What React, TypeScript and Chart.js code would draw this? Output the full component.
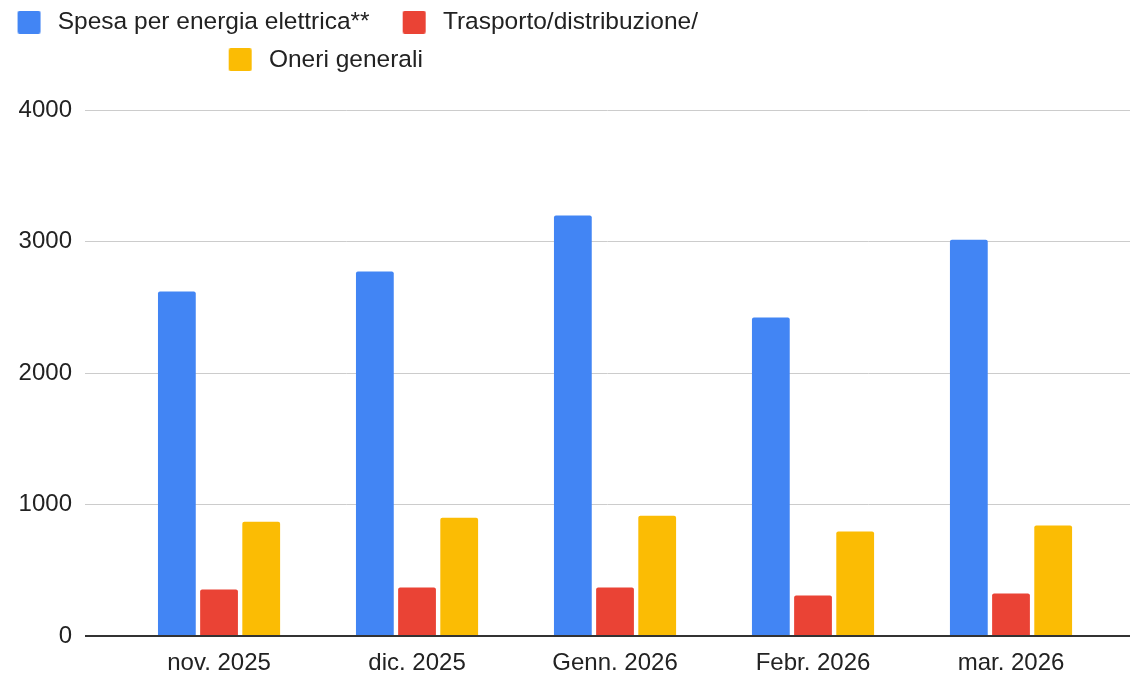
import React, { useEffect, useRef } from 'react';
import { Chart, registerables } from 'chart.js';

Chart.register(...registerables);

// ---- data ----
const categories = ['nov. 2025', 'dic. 2025', 'Genn. 2026', 'Febr. 2026', 'mar. 2026'];
const seriesNames = ['Spesa per energia elettrica**', 'Trasporto/distribuzione/', 'Oneri generali'];
const spesaEnergia = [2620, 2772, 3198, 2423, 3013];
const trasporto = [353, 368, 368, 308, 323];
const oneri = [869, 900, 915, 794, 841];
const yTicks = [0, 1000, 2000, 3000, 4000];

// ---- styles ----
const colors = ['#4285F4', '#EA4335', '#FBBC04'];
const FONT = "'Liberation Sans', Arial, Helvetica, sans-serif";
const TEXT = '#222222';
const X_MIN = -0.677;
const X_MAX = 4.601;
const LEGEND_FIT_W = 800;
const LEGEND_LEFT = -30;
const LEGEND_RIGHT = 725.5;
const LEGEND_H = 110;
const LEGEND_SHIFT = -3;
const LEGEND_ROW2_SHIFT = 64; // moves the second legend row left by half this
const SWATCH_W = 48; // legend marker slot (lead-in gap + box + gap)
const SWATCH_BOX = 23;
const SWATCH_TAIL = 5;

function makeSwatch(color: string): HTMLCanvasElement {
  const c = document.createElement('canvas');
  c.width = SWATCH_W;
  c.height = SWATCH_BOX;
  const g = c.getContext('2d')!;
  g.fillStyle = color;
  const x = SWATCH_W - SWATCH_BOX - SWATCH_TAIL;
  g.beginPath();
  if ((g as any).roundRect) (g as any).roundRect(x, 0, SWATCH_BOX, SWATCH_BOX, 2);
  else g.rect(x, 0, SWATCH_BOX, SWATCH_BOX);
  g.fill();
  return c;
}

const legendLayout = {
  id: 'legendLayout',
  beforeUpdate(chart: any) {
    const lg = chart.legend;
    if (lg && !lg._patchedFit) {
      lg._patchedFit = true;
      const fit = lg.fit;
      lg.fit = function () {
        const mw = this.maxWidth;
        this.maxWidth = Math.min(mw, LEGEND_FIT_W);
        fit.call(this);
        this.maxWidth = mw;
        this.height = LEGEND_H;
      };
    }
  },
  afterLayout(chart: any) {
    const lg = chart.legend;
    if (lg) {
      lg.left = LEGEND_LEFT;
      lg.right = LEGEND_RIGHT;
      lg.width = LEGEND_RIGHT - LEGEND_LEFT;
      lg.top = LEGEND_SHIFT;
      if (lg.lineWidths && lg.lineWidths.length > 1) {
        lg.lineWidths[1] += LEGEND_ROW2_SHIFT;
      }
    }
  },
};

export default function App() {
  const ref = useRef<HTMLCanvasElement | null>(null);

  useEffect(() => {
    document.body.style.margin = '0';
    const canvas = ref.current;
    if (!canvas) return;
    const swatches = colors.map(makeSwatch);
    const series = [spesaEnergia, trasporto, oneri];
    const chart = new Chart(canvas, {
      type: 'bar',
      data: {
        datasets: series.map((vals, k) => ({
          label: seriesNames[k],
          data: vals.map((v, i) => ({ x: i, y: v })),
          backgroundColor: colors[k],
          borderRadius: 2,
          borderSkipped: 'start',
          categoryPercentage: 0.639,
          barPercentage: 0.896,
        })),
      },
      options: {
        responsive: false,
        animation: false,
        events: [],
        layout: { padding: 0 },
        plugins: {
          tooltip: { enabled: false },
          legend: {
            position: 'top',
            align: 'center',
            labels: {
              usePointStyle: true,
              pointStyleWidth: SWATCH_W,
              boxWidth: SWATCH_BOX,
              boxHeight: SWATCH_BOX,
              padding: 13,
              color: TEXT,
              font: { size: 24.5, family: FONT },
              generateLabels: (ch: any) => {
                const items = (Chart.defaults as any).plugins.legend.labels.generateLabels(ch);
                return items.map((it: any, i: number) => ({ ...it, pointStyle: swatches[i] }));
              },
            },
          },
        },
        scales: {
          x: {
            type: 'linear',
            offset: false,
            min: X_MIN,
            max: X_MAX,
            afterBuildTicks: (s: any) => {
              s.ticks = categories.map((_, i) => ({ value: i }));
            },
            afterFit: (s: any) => {
              s.height = 37;
            },
            ticks: {
              callback: (v: any) => categories[v as number] ?? '',
              padding: 5,
              maxRotation: 0,
              autoSkip: false,
              color: TEXT,
              font: { size: 24, family: FONT },
            },
            grid: { display: false, offset: false },
            border: { display: false },
          },
          y: {
            min: 0,
            max: 4000,
            afterBuildTicks: (s: any) => {
              s.ticks = yTicks.map((v) => ({ value: v }));
            },
            afterFit: (s: any) => {
              s.width = 85;
            },
            ticks: {
              callback: (v: any) => String(v),
              padding: 13,
              color: TEXT,
              font: { size: 24, family: FONT },
            },
            grid: {
              drawTicks: false,
              color: (c: any) => (c.tick && c.tick.value === 0 ? '#333333' : '#cccccc'),
              lineWidth: (c: any) => (c.tick && c.tick.value === 0 ? 2 : 1),
            },
            border: { display: false },
          },
        },
      } as any,
      plugins: [legendLayout],
    });
    return () => chart.destroy();
  }, []);

  return (
    <div style={{ width: 1130, height: 673 }}>
      <canvas ref={ref} width={1130} height={673} style={{ display: 'block' }} />
    </div>
  );
}
